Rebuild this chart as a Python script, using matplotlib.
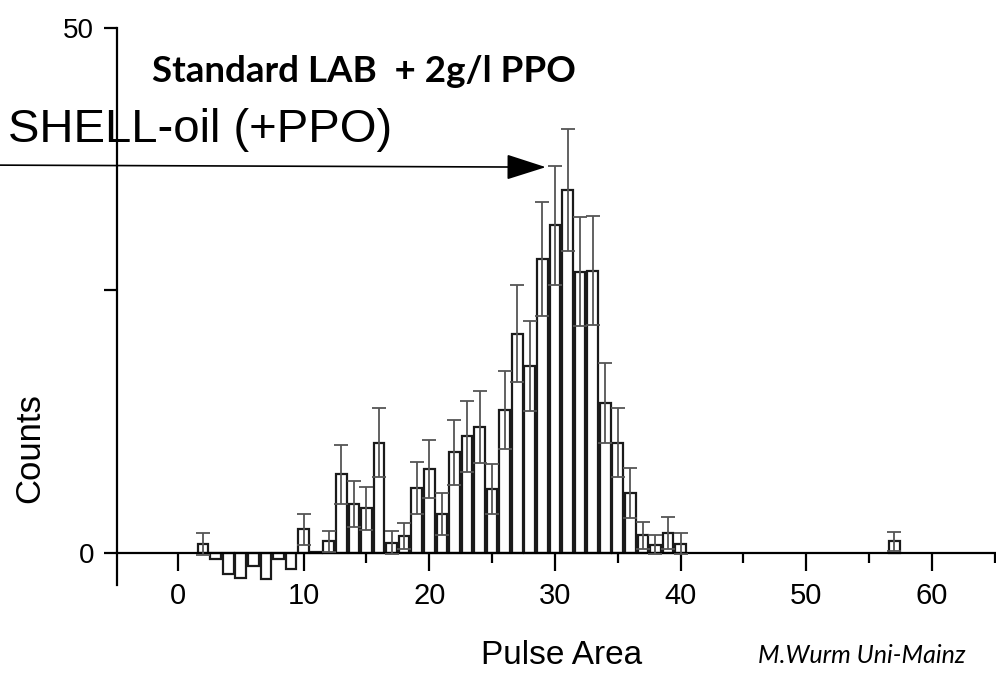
import matplotlib
matplotlib.use('Agg')
import matplotlib.pyplot as plt
import numpy as np

plt.rcParams['font.family'] = ['Liberation Sans', 'DejaVu Sans']
narrow = ['Liberation Sans Narrow', 'Liberation Sans', 'DejaVu Sans']

# pulse area bins and counts
pulse = [2, 3, 4, 5, 6, 7, 8, 9, 10, 11, 12, 13, 14, 15, 16, 17, 18, 19, 20,
         21, 22, 23, 24, 25, 26, 27, 28, 29, 30, 31, 32, 33, 34, 35, 36, 37,
         38, 39, 40, 57]
counts = [0.85, -0.6, -2.0, -2.35, -1.2, -2.45, -0.6, -1.55, 2.25, 0.1, 1.1,
          7.5, 4.7, 4.25, 10.5, 1.0, 1.65, 6.2, 8.0, 3.7, 9.6, 11.1, 12.0, 6.1,
          13.6, 20.9, 17.8, 28.0, 31.2, 34.6, 26.8, 26.9, 14.3, 10.5, 5.7, 1.7,
          0.8, 1.9, 0.9, 1.1]
errors = [1.05, 0, 0, 0, 0, 0, 0, 0, 1.45, 0, 1.0, 2.8, 2.2, 2.05, 3.3, 1.1,
          1.25, 2.5, 2.8, 2.0, 3.1, 3.4, 3.4, 2.4, 3.7, 4.6, 4.3, 5.4, 5.7, 5.8,
          5.2, 5.2, 3.8, 3.3, 2.4, 1.3, 0.9, 1.5, 1.0, 0.9]

x = np.array(pulse)
y = np.array(counts)
e = np.array(errors)

fig = plt.figure(figsize=(9.96, 6.74), dpi=100)
ax = fig.add_axes([0.1175, 0.132, 0.8825, 0.8265])

ax.bar(x, y, width=0.85, color='white', edgecolor='#1a1a1a', linewidth=1.6, zorder=2)
m = e > 0
ax.errorbar(x[m], y[m], yerr=e[m], fmt='none', ecolor='#555555', elinewidth=1.3,
            capsize=5, capthick=1.3, zorder=3)

ax.set_xlim(-4.85, 65.1)
ax.set_ylim(-3.05, 50)
ax.spines['top'].set_visible(False)
ax.spines['right'].set_visible(False)
ax.spines['bottom'].set_position(('data', 0))
ax.spines['bottom'].set_linewidth(1.6)
ax.spines['left'].set_linewidth(1.6)

ax.set_xticks(np.arange(0, 61, 10))
ax.set_xticks(np.arange(5, 66, 10), minor=True)
ax.set_yticks([0, 25, 50], labels=['0', '', '50'])
ax.tick_params(axis='x', which='major', direction='out', length=13, width=1.6,
               labelsize=21, pad=8)
ax.tick_params(axis='x', which='minor', direction='out', length=7, width=1.6)
ax.tick_params(axis='y', which='both', direction='out', length=9.5, width=1.6,
               labelsize=20, pad=7)
for lab in ax.get_xticklabels() + ax.get_yticklabels():
    lab.set_family(narrow)

fig.text(0.03, 0.335, 'Counts', rotation=90, fontsize=25, ha='center', va='center')
fig.text(0.564, 0.028, 'Pulse Area', fontsize=24, ha='center', va='center')
fig.text(0.8655, 0.0163, 'M.Wurm Uni-Mainz', fontsize=18, style='italic',
         family=['Lato', 'DejaVu Sans'], ha='center', va='baseline')
fig.text(0.365, 0.878, 'Standard LAB  + 2g/l PPO', fontsize=26.5, fontweight='bold',
         family=['Lato', 'DejaVu Sans'], ha='center', va='baseline')
fig.text(0.008, 0.807, 'SHELL-oil (+PPO)', fontsize=34, ha='left', va='center')

ax.annotate('', xy=(0.548, 0.752), xycoords='figure fraction',
            xytext=(0.0, 0.755), textcoords='figure fraction',
            arrowprops=dict(arrowstyle='-|>,head_length=1.0,head_width=0.32',
                            mutation_scale=25, lw=1.2, color='black',
                            shrinkA=0, shrinkB=0),
            annotation_clip=False)

fig.savefig('out.png', dpi=100)
